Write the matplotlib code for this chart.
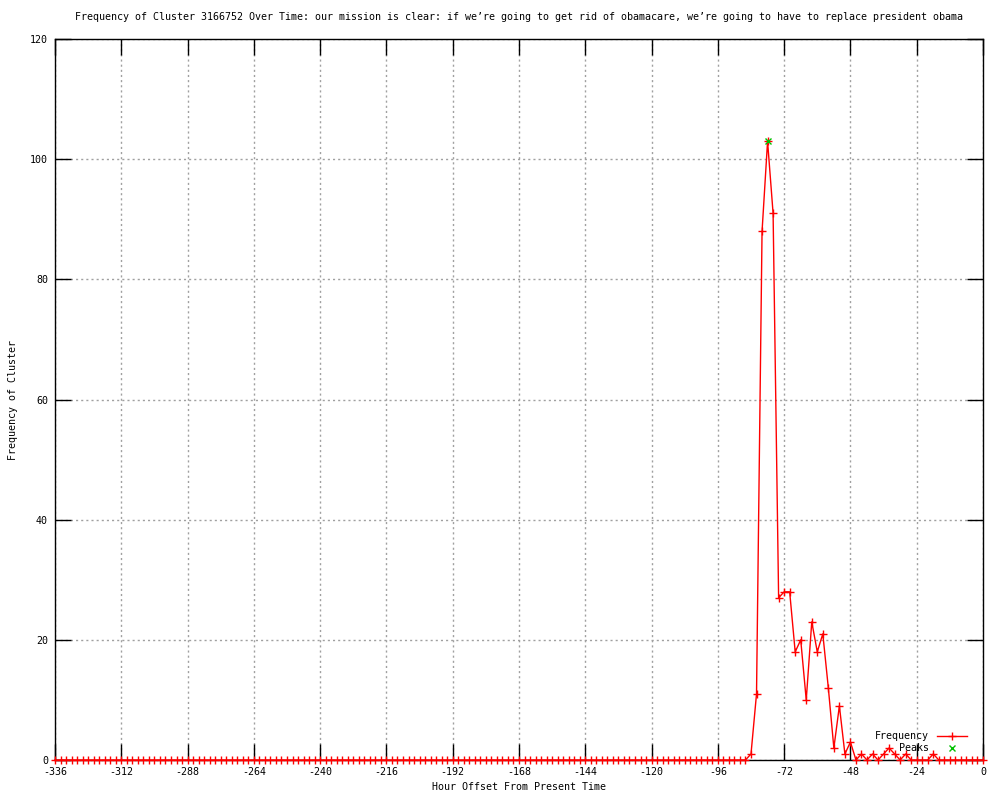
import matplotlib
matplotlib.use("Agg")
import matplotlib.pyplot as plt
import numpy as np

plt.rcParams['font.family'] = ['DejaVu Sans Mono', 'DejaVu Sans']
plt.rcParams['axes.unicode_minus'] = False

hours = list(range(-336, 1, 2))
nonzero = {
    -84: 1, -82: 11, -80: 88, -78: 103, -76: 91, -74: 27, -72: 28, -70: 28,
    -68: 18, -66: 20, -64: 10, -62: 23, -60: 18, -58: 21, -56: 12, -54: 2,
    -52: 9, -50: 1, -48: 3, -44: 1, -40: 1, -36: 1, -34: 2, -32: 1, -28: 1,
    -18: 1,
}
frequency = [nonzero.get(h, 0) for h in hours]
peak_hours = [-78]
peak_values = [103]

title = ("Frequency of Cluster 3166752 Over Time: our mission is clear: if we\u2019re going "
         "to get rid of obamacare, we\u2019re going to have to replace president obama")
xticks = list(range(-336, 1, 24))
yticks = list(range(0, 121, 20))

fig = plt.figure(figsize=(10, 8), dpi=100)
ax = fig.add_axes([0.055, 0.05, 0.928, 0.901])

ax.plot(hours, frequency, color='#ff0000', lw=1, marker='+', ms=5.5, mew=1,
        label='Frequency', clip_on=False, zorder=3)
ax.plot(peak_hours, peak_values, ls='none', color='#00c000', marker='x', ms=5,
        mew=1, label='Peaks', clip_on=False, zorder=4)

ax.set_xlim(-336, 0)
ax.set_ylim(0, 120)
ax.set_xticks(xticks)
ax.set_yticks(yticks)
ax.tick_params(direction='in', length=11.5, width=1, top=True, right=True,
               labelsize=7.2, pad=5, color='black')
ax.grid(True, color='#a0a0a0', ls=(0, (1.5, 2.2)), lw=1)
for s in ax.spines.values():
    s.set_linewidth(1)

ax.set_title(title, fontsize=7.2, pad=14)
ax.set_xlabel('Hour Offset From Present Time', fontsize=7.2, labelpad=4)
ax.set_ylabel('Frequency of Cluster', fontsize=7.2, labelpad=9)

leg = ax.legend(loc='lower right', frameon=False, fontsize=7.2, markerfirst=False,
                handlelength=3, borderaxespad=0.3, labelspacing=0.2,
                bbox_to_anchor=(0.99, 0.0))
for t in leg.get_texts():
    t.set_ha('right')

fig.savefig('out.png', dpi=100)
